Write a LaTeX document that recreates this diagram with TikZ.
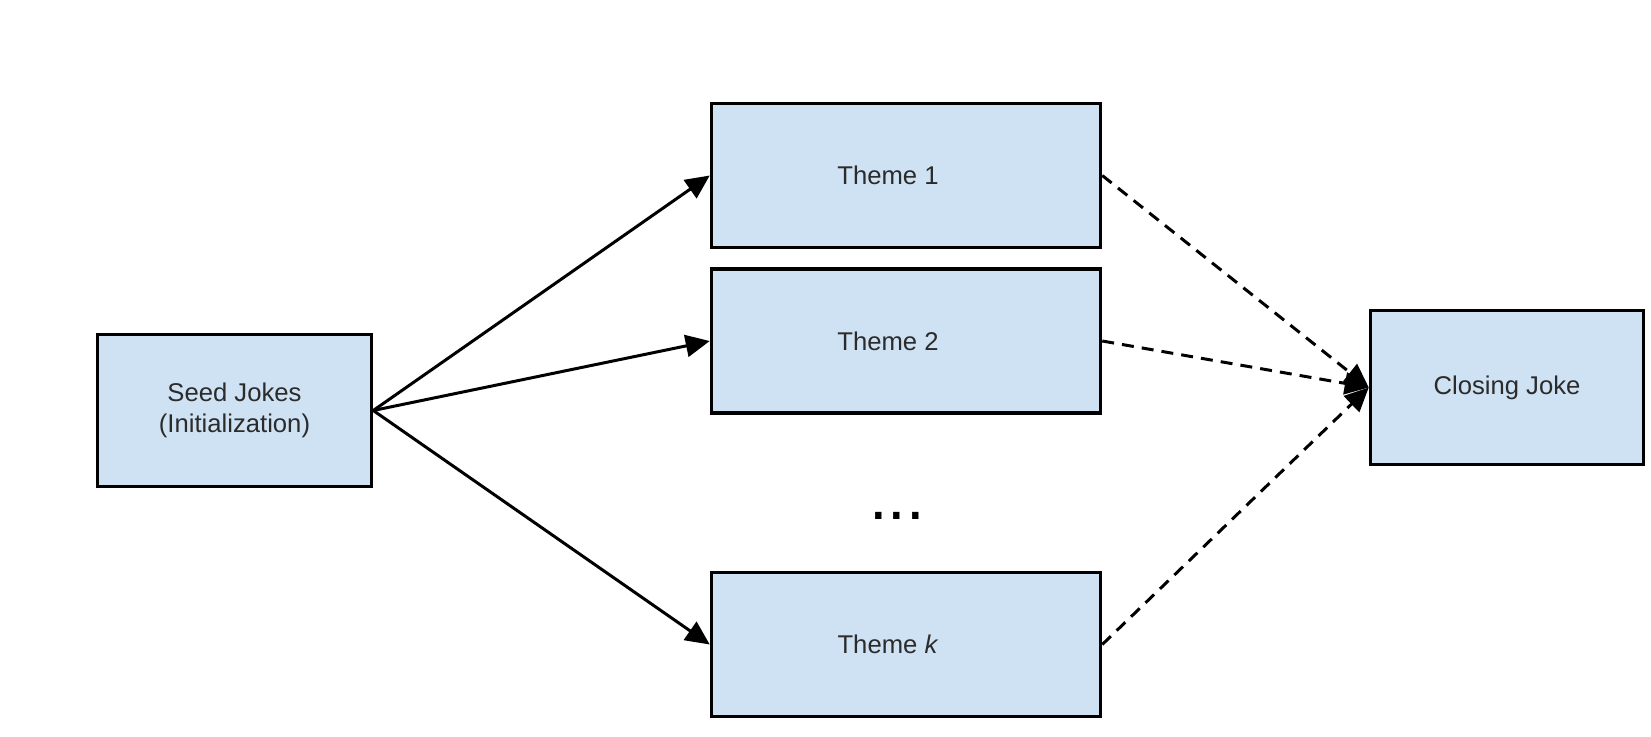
\documentclass[tikz,border=0pt]{standalone}
\usepackage{fontspec}
\setmainfont{Liberation Sans}
\usetikzlibrary{positioning, arrows.meta}
\definecolor{themefill}{HTML}{CFE2F3}
\definecolor{textgray}{HTML}{2B2B2B}
\tikzset{
  jokebox/.style={
    draw=black,
    fill=themefill,
    line width=2pt,
    align=center,
    text=textgray,
    font=\fontsize{14.6}{17.6}\selectfont
  },
  seedn/.style={jokebox, minimum width=5.48cm, minimum height=3.04cm},
  theme/.style={jokebox, minimum width=7.78cm, minimum height=2.88cm,
    execute at begin node={\hspace*{-7.2mm}}},
  closen/.style={jokebox, minimum width=5.46cm, minimum height=3.08cm},
  arr/.style={-{Triangle[length=4.8mm, width=4.4mm]}, line width=1.7pt},
  arrdash/.style={arr, dash pattern=on 6.8pt off 4.6pt}
}

\begin{document}
\begin{tikzpicture}

  \useasboundingbox (0,0) rectangle (33.02,-14.72);

  \node[seedn] (seed) at (4.69,-8.21) {Seed Jokes\\(Initialization)};

  \node[theme] (theme1) at (18.12,-3.51) {Theme 1};
  \node[theme, below=0.36cm of theme1] (theme2) {Theme 2};
  \node[theme] (themek) at (18.12,-12.89) {Theme \textit{k}};

  \node[anchor=base, font=\fontsize{38}{40}\selectfont] (dots) at (17.94,-10.38) {...};

  \node[closen] (closing) at (30.14,-7.75) {Closing Joke};

  % seed to themes
  \draw[arr] (seed.east) -- (theme1.west);
  \draw[arr] (seed.east) -- (theme2.west);
  \draw[arr] (seed.east) -- (themek.west);

  % themes to closing joke
  \draw[arrdash] (theme1.east) -- (closing.west);
  \draw[arrdash] (theme2.east) -- (closing.west);
  \draw[arrdash] (themek.east) -- (closing.west);

\end{tikzpicture}
\end{document}
